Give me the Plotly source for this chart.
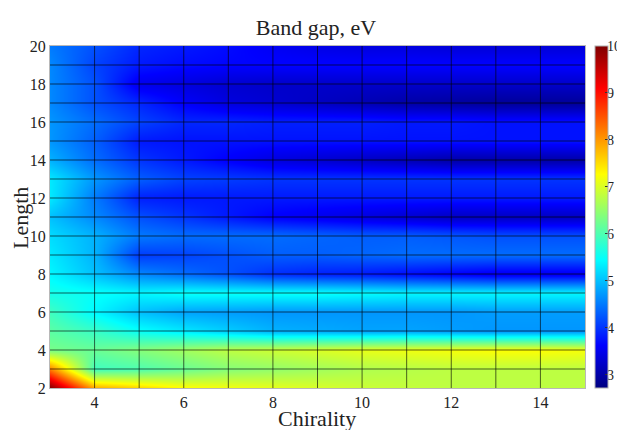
import plotly.graph_objects as go

chirality = [3, 4, 5, 6, 7, 8, 9, 10, 11, 12, 13, 14, 15]
length = list(range(2, 21))

gap_l02 = [10.0, 7.9, 7.6, 7.3, 7.2, 7.1, 7.0, 6.9, 6.85, 6.8, 6.8, 6.8, 6.8]
gap_l03 = [8.2, 5.9, 6.0, 6.2, 6.4, 6.5, 6.6, 6.7, 6.75, 6.8, 6.8, 6.8, 6.8]
gap_l04 = [6.3, 6.2, 6.4, 6.6, 6.8, 6.9, 7.0, 7.1, 7.15, 7.2, 7.25, 7.25, 7.2]
gap_l05 = [6.1, 5.85, 5.5, 5.3, 5.1, 4.9, 4.85, 4.8, 4.8, 4.75, 4.7, 4.7, 4.7]
gap_l06 = [5.9, 5.4, 5.0, 4.8, 4.75, 4.7, 4.7, 4.7, 4.7, 4.7, 4.75, 4.75, 4.75]
gap_l07 = [5.6, 5.5, 5.4, 5.5, 5.5, 5.5, 5.5, 5.45, 5.4, 5.4, 5.4, 5.4, 5.4]
gap_l08 = [5.4, 5.0, 4.6, 4.4, 4.2, 3.95, 3.85, 3.8, 3.7, 3.6, 3.5, 3.5, 3.5]
gap_l09 = [5.3, 4.9, 4.05, 4.1, 4.2, 4.3, 4.3, 4.35, 4.4, 4.4, 4.4, 4.4, 4.4]
gap_l10 = [5.2, 4.9, 4.5, 4.4, 4.4, 4.4, 4.35, 4.3, 4.3, 4.25, 4.2, 4.2, 4.2]
gap_l11 = [5.0, 4.6, 4.2, 4.0, 3.8, 3.6, 3.5, 3.4, 3.3, 3.2, 3.2, 3.2, 3.2]
gap_l12 = [5.3, 4.5, 3.85, 3.8, 3.8, 3.8, 3.8, 3.8, 3.8, 3.8, 3.8, 3.8, 3.8]
gap_l13 = [5.3, 4.7, 4.3, 4.1, 4.05, 4.0, 4.0, 4.0, 4.0, 4.0, 4.0, 4.0, 4.0]
gap_l14 = [4.9, 4.4, 4.0, 3.8, 3.6, 3.4, 3.3, 3.2, 3.1, 3.0, 3.0, 3.0, 3.0]
gap_l15 = [4.7, 4.3, 3.8, 3.75, 3.75, 3.75, 3.75, 3.75, 3.75, 3.75, 3.75, 3.75, 3.75]
gap_l16 = [4.7, 4.4, 4.1, 3.9, 3.9, 3.85, 3.85, 3.85, 3.8, 3.8, 3.75, 3.75, 3.75]
gap_l17 = [4.6, 4.2, 3.9, 3.6, 3.4, 3.3, 3.2, 3.1, 3.0, 2.95, 2.9, 2.9, 2.9]
gap_l18 = [4.6, 4.2, 3.5, 3.4, 3.3, 3.25, 3.25, 3.25, 3.25, 3.25, 3.25, 3.25, 3.25]
gap_l19 = [4.6, 4.1, 3.8, 3.7, 3.65, 3.65, 3.65, 3.65, 3.65, 3.65, 3.65, 3.65, 3.65]
gap_l20 = [4.5, 4.2, 3.9, 3.8, 3.7, 3.55, 3.45, 3.4, 3.4, 3.35, 3.35, 3.35, 3.35]

band_gap = [gap_l02, gap_l03, gap_l04, gap_l05, gap_l06, gap_l07, gap_l08, gap_l09, gap_l10,
            gap_l11, gap_l12, gap_l13, gap_l14, gap_l15, gap_l16, gap_l17, gap_l18, gap_l19, gap_l20]

x_ticks = [4, 6, 8, 10, 12, 14]
y_ticks = [2, 4, 6, 8, 10, 12, 14, 16, 18, 20]
cbar_ticks = [3, 4, 5, 6, 7, 8, 9, 10]
z_range = [2.72, 10]

FONT = "Liberation Serif"
INK = "#222222"
jet = [[0, "rgb(0,0,128)"], [0.125, "rgb(0,0,255)"], [0.375, "rgb(0,255,255)"],
       [0.625, "rgb(255,255,0)"], [0.875, "rgb(255,0,0)"], [1, "rgb(128,0,0)"]]

# The page body adds an 8 px offset, so the figure is 8 px smaller and positions are shifted.
W, H = 617, 422
OFF = 8

fig = go.Figure(go.Heatmap(
    x=chirality, y=length, z=band_gap, zmin=z_range[0], zmax=z_range[1], zsmooth="best",
    colorscale=jet,
    colorbar=dict(
        x=(595 - OFF) / W, xanchor="left", xpad=0,
        y=1 - (46 - OFF) / H, yanchor="top", ypad=0,
        len=342 / H, lenmode="fraction", thickness=13, thicknessmode="pixels",
        outlinecolor="#b0b0b0", outlinewidth=1, tickvals=cbar_ticks,
        ticks="inside", ticklen=3, tickcolor="#333333", showticklabels=False,
    ),
))

# Invisible trace that brings up the axis carrying the colour-bar labels.
fig.add_trace(go.Scatter(x=chirality[:1], y=z_range[:1], yaxis="y2", mode="markers",
                         marker=dict(opacity=0), showlegend=False, hoverinfo="skip"))

for v in chirality[1:-1]:
    fig.add_shape(type="line", x0=v, x1=v, y0=length[0], y1=length[-1],
                  line=dict(color="rgba(0,0,0,0.62)", width=1), layer="above")
for v in length[1:-1]:
    fig.add_shape(type="line", y0=v, y1=v, x0=chirality[0], x1=chirality[-1],
                  line=dict(color="rgba(0,0,0,0.62)", width=1), layer="above")

axis_style = dict(showline=True, linecolor="#b8b8b8", linewidth=1, mirror=True, showgrid=False,
                  zeroline=False, ticks="", automargin=False,
                  tickfont=dict(family=FONT, size=16, color=INK))

fig.update_layout(
    width=W, height=H, autosize=False,
    paper_bgcolor="white", plot_bgcolor="white",
    margin=dict(l=0, r=0, t=0, b=0, pad=0, autoexpand=False),
    title=dict(text="Band gap, eV", x=(316 - OFF) / W, xanchor="center", y=1 - (27 - OFF) / H,
               yanchor="middle", automargin=False, font=dict(family=FONT, size=22, color=INK)),
    xaxis=dict(domain=[(50 - OFF) / W, (585 - OFF) / W],
               range=[3, 15], tickvals=x_ticks, **axis_style),
    yaxis=dict(domain=[1 - (388 - OFF) / H, 1 - (46 - OFF) / H],
               range=[2, 20], tickvals=y_ticks, **axis_style),
    yaxis2=dict(overlaying="y", anchor="free", side="right", position=(606 - OFF) / W,
                range=z_range, tickvals=cbar_ticks, showgrid=False, zeroline=False, showline=False,
                ticks="", automargin=False, tickfont=dict(family=FONT, size=14, color=INK)),
    annotations=[
        dict(text="Chirality", xref="paper", yref="paper", x=(317 - OFF) / W, y=1 - (418 - OFF) / H,
             xanchor="center", yanchor="middle", showarrow=False,
             font=dict(family=FONT, size=22, color=INK)),
        dict(text="Length", xref="paper", yref="paper", x=(21 - OFF) / W, y=1 - (218 - OFF) / H,
             xanchor="center", yanchor="middle", textangle=-90, showarrow=False,
             font=dict(family=FONT, size=22, color=INK)),
    ],
)

fig.write_html("out.html")
